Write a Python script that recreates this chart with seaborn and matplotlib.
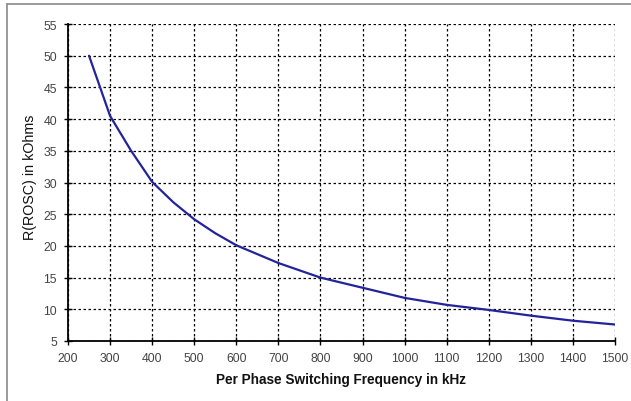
import matplotlib
matplotlib.use("Agg")
import matplotlib.pyplot as plt
from matplotlib.lines import Line2D
import seaborn as sns
import pandas as pd

freq_khz = [250, 300, 350, 400, 450, 500, 550, 600, 700, 800, 900, 1000, 1100, 1200, 1300, 1400, 1500]
r_rosc_kohm = [50.0, 40.5, 35.0, 30.1, 26.9, 24.2, 22.0, 20.1, 17.3, 15.0, 13.4, 11.8, 10.7, 9.9, 9.0, 8.2, 7.6]
x_ticks = list(range(200, 1501, 100))
y_ticks = list(range(5, 56, 5))

sns.set_theme(style="white")
plt.rcParams['font.family'] = ['Liberation Sans', 'DejaVu Sans']

df = pd.DataFrame({"freq": freq_khz, "r": r_rosc_kohm})

fig = plt.figure(figsize=(6.31, 4.02), dpi=100)
ax = fig.add_axes([68/631, 1-342/402, (615-68)/631, (342-25)/402])

sns.lineplot(data=df, x="freq", y="r", ax=ax, color="#23239a", linewidth=1.6)

ax.set_xlim(200, 1500)
ax.set_ylim(5, 55)
ax.set_xticks(x_ticks)
ax.set_yticks(y_ticks)
ax.grid(True, color="black", linestyle=(0, (2, 2)), linewidth=0.9)
ax.set_axisbelow(True)

for s in ["top", "right"]:
    ax.spines[s].set_visible(False)
for s in ["left", "bottom"]:
    ax.spines[s].set_color("black")
    ax.spines[s].set_linewidth(1.3)

ax.tick_params(axis="both", direction="inout", length=6, width=1, color="black",
               labelsize=8.8, labelcolor="#444444", left=True, bottom=True)
ax.tick_params(axis="x", pad=5)
ax.tick_params(axis="y", pad=5)

ax.set_xlabel("Per Phase Switching Frequency in kHz", fontsize=9.8, fontweight="bold",
              color="#111111", labelpad=6)
ax.set_ylabel("R(ROSC) in kOhms", fontsize=10.3, color="#111111")
ax.yaxis.set_label_coords(-0.057, 0.52)

# outer frame (top and left edges visible)
fig.add_artist(Line2D([7/631, 1.0], [1-5/402, 1-5/402], transform=fig.transFigure,
                      color="#8a8a8a", linewidth=1.2))
fig.add_artist(Line2D([7/631, 7/631], [0.0, 1-5/402], transform=fig.transFigure,
                      color="#8a8a8a", linewidth=1.2))

fig.savefig("out.png", dpi=100)
